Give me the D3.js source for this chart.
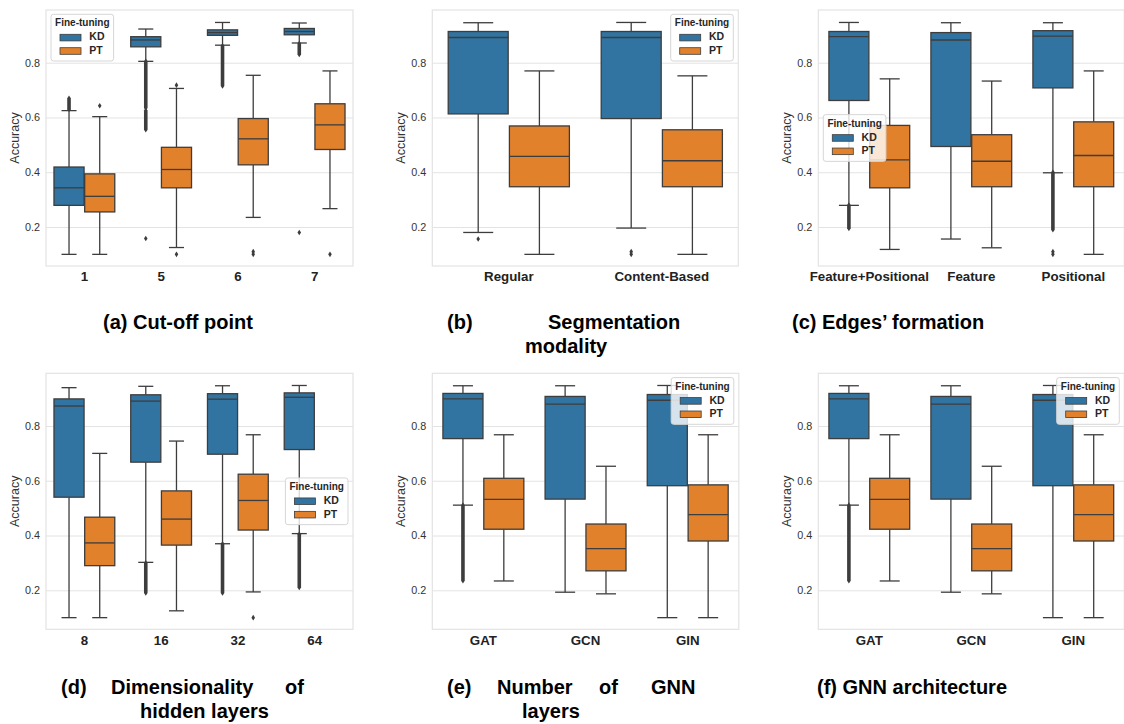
<!DOCTYPE html>
<html>
<head>
<meta charset="utf-8">
<script src="https://cdn.jsdelivr.net/npm/d3@7"></script>
<style>
  body { margin: 0; background: #fff; }
  svg { font-family: "Liberation Sans", Arial, sans-serif; }
</style>
</head>
<body>
<svg id="chart" width="1124" height="724"></svg>
<script>
// box stats: [lower whisker, q1, median, q3, upper whisker]
const hues = ["KD", "PT"];
const hueColors = ["#3274a1", "#e1812c"];
const yTicks = [0.2, 0.4, 0.6, 0.8];

// (a) cut-off point
const cutoffCats = ["1", "5", "6", "7"];
const cutoffKD = [[0.100, 0.279, 0.343, 0.419, 0.625], [0.805, 0.858, 0.883, 0.895, 0.923], [0.864, 0.900, 0.910, 0.920, 0.947], [0.872, 0.902, 0.914, 0.925, 0.945]];
const cutoffPT = [[0.100, 0.255, 0.312, 0.394, 0.603], [0.125, 0.343, 0.410, 0.491, 0.706], [0.235, 0.427, 0.522, 0.596, 0.754], [0.267, 0.483, 0.573, 0.650, 0.770]];
// single outliers [category, hue, value] and dense runs [category, hue, low, high]
const cutoffOut = [[0, 1, 0.643], [1, 0, 0.158], [1, 1, 0.718], [1, 1, 0.100], [2, 1, 0.100], [2, 1, 0.110], [3, 0, 0.180], [3, 1, 0.100]];
const cutoffRuns = [[0, 0, 0.630, 0.670], [1, 0, 0.555, 0.625], [1, 0, 0.635, 0.805], [2, 0, 0.715, 0.862], [3, 0, 0.830, 0.870]];

// (b) segmentation modality
const segCats = ["Regular", "Content-Based"];
const segKD = [[0.180, 0.613, 0.892, 0.914, 0.946], [0.196, 0.596, 0.892, 0.914, 0.947]];
const segPT = [[0.100, 0.347, 0.458, 0.569, 0.770], [0.100, 0.347, 0.442, 0.555, 0.752]];
const segOut = [[0, 0, 0.156], [1, 0, 0.100], [1, 0, 0.110]];
const segRuns = [];

// (c) edges' formation
const edgeCats = ["Feature+Positional", "Feature", "Positional"];
const edgeKD = [[0.279, 0.662, 0.895, 0.914, 0.947], [0.156, 0.494, 0.883, 0.910, 0.946], [0.398, 0.708, 0.897, 0.917, 0.946]];
const edgePT = [[0.118, 0.343, 0.445, 0.571, 0.741], [0.124, 0.347, 0.440, 0.537, 0.733], [0.100, 0.347, 0.461, 0.584, 0.770]];
const edgeOut = [[2, 0, 0.100], [2, 0, 0.110]];
const edgeRuns = [[0, 0, 0.195, 0.280], [2, 0, 0.190, 0.400]];

// (d) dimensionality of hidden layers (no PT run for 64)
const hidCats = ["8", "16", "32", "64"];
const hidKD = [[0.100, 0.540, 0.873, 0.899, 0.940], [0.302, 0.668, 0.891, 0.914, 0.945], [0.370, 0.697, 0.898, 0.918, 0.947], [0.407, 0.714, 0.905, 0.921, 0.948]];
const hidPT = [[0.100, 0.290, 0.373, 0.467, 0.700], [0.125, 0.365, 0.460, 0.563, 0.745], [0.194, 0.420, 0.528, 0.624, 0.768], null];
const hidOut = [[2, 1, 0.100]];
const hidRuns = [[1, 0, 0.190, 0.300], [2, 0, 0.190, 0.370], [3, 0, 0.210, 0.405]];

// (e) / (f) GNN
const gnnCats = ["GAT", "GCN", "GIN"];
const gnnKD = [[0.511, 0.754, 0.899, 0.919, 0.947], [0.193, 0.533, 0.880, 0.908, 0.947], [0.100, 0.582, 0.894, 0.915, 0.948]];
const gnnPT = [[0.234, 0.423, 0.532, 0.609, 0.768], [0.187, 0.271, 0.352, 0.442, 0.653], [0.100, 0.380, 0.476, 0.585, 0.768]];
const gnnOut = [];
const gnnRuns = [[0, 0, 0.235, 0.511]];

const panels = [
  {cats: cutoffCats, kd: cutoffKD, pt: cutoffPT, out: cutoffOut, runs: cutoffRuns, left: 46, top: 10, width: 307, legend: "ul"},
  {cats: segCats, kd: segKD, pt: segPT, out: segOut, runs: segRuns, left: 432.3, top: 10, width: 306, legend: "ur"},
  {cats: edgeCats, kd: edgeKD, pt: edgePT, out: edgeOut, runs: edgeRuns, left: 818.3, top: 10, width: 306, legend: "cl"},
  {cats: hidCats, kd: hidKD, pt: hidPT, out: hidOut, runs: hidRuns, left: 46, top: 373.3, width: 307, legend: "cr"},
  {cats: gnnCats, kd: gnnKD, pt: gnnPT, out: gnnOut, runs: gnnRuns, left: 432.3, top: 373.3, width: 306.5, legend: "ur"},
  {cats: gnnCats, kd: gnnKD, pt: gnnPT, out: gnnOut, runs: gnnRuns, left: 818.3, top: 373.3, width: 306, legend: "ur"}
];

// caption lines: [text, x, baseline]
const captions = [
  ["(a) Cut-off point", 103, 329],
  ["(b)", 447, 329], ["Segmentation", 548, 329], ["modality", 525, 353],
  ["(c) Edges\u2019 formation", 792, 329],
  ["(d)", 61, 694], ["Dimensionality", 111, 694], ["of", 285, 694], ["hidden layers", 140, 718],
  ["(e)", 447, 694], ["Number", 497, 694], ["of", 599, 694], ["GNN", 651, 694], ["layers", 522, 718],
  ["(f) GNN architecture", 817, 694]
];

const H = 256;
const lineColor = "#3d3d3d";
const svg = d3.select("#chart");

panels.forEach(p => drawPanel(p));

svg.append("g")
  .selectAll("text")
  .data(captions)
  .join("text")
    .attr("x", d => d[0] ? d[1] : 0)
    .attr("y", d => d[2])
    .attr("font-size", 20)
    .attr("font-weight", "bold")
    .attr("fill", "#000")
    .text(d => d[0]);

function drawPanel(p) {
  const g = svg.append("g").attr("transform", `translate(${p.left},${p.top})`);
  const W = p.width;

  const x = d3.scaleBand().domain(p.cats).range([0, W]);
  const hx = d3.scaleBand().domain(hues).range([0.1 * x.bandwidth(), 0.9 * x.bandwidth()]);
  const y = d3.scaleLinear().domain([0.0575, 0.9925]).range([H, 0]);
  const bw = hx.bandwidth() * 0.98;
  const cx = (ci, hi) => x(p.cats[ci]) + hx(hues[hi]) + hx.bandwidth() / 2;

  // grid + y labels
  const yAxis = g.append("g")
    .call(d3.axisLeft(y).tickValues(yTicks).tickSize(-W).tickPadding(6).tickFormat(d3.format(".1f")));
  yAxis.select(".domain").remove();
  yAxis.selectAll("line").attr("stroke", "#e3e3e3").attr("stroke-width", 1);
  yAxis.selectAll("text").attr("font-size", 10.8).attr("fill", "#333")
    .attr("font-family", "'Liberation Sans', Arial, sans-serif");

  g.append("rect")
    .attr("width", W).attr("height", H)
    .attr("fill", "none").attr("stroke", "#e3e3e3").attr("stroke-width", 1.2);

  const xAxis = g.append("g")
    .attr("transform", `translate(0,${H})`)
    .call(d3.axisBottom(x).tickSize(0).tickPadding(6));
  xAxis.select(".domain").remove();
  xAxis.selectAll("text").attr("font-size", 13.3).attr("font-weight", "bold").attr("fill", "#222")
    .attr("font-family", "'Liberation Sans', Arial, sans-serif");

  g.append("text")
    .text("Accuracy")
    .attr("transform", `translate(-30.5,${H / 2}) rotate(-90)`)
    .attr("text-anchor", "middle")
    .attr("dominant-baseline", "middle")
    .attr("font-size", 12.5)
    .attr("fill", "#333");

  const boxes = [];
  p.cats.forEach((c, ci) => {
    [p.kd[ci], p.pt[ci]].forEach((s, hi) => {
      if (s) boxes.push({ci, hi, s});
    });
  });

  const bg = g.append("g").selectAll("g").data(boxes).join("g");
  // whiskers
  bg.append("line")
    .attr("x1", d => cx(d.ci, d.hi)).attr("x2", d => cx(d.ci, d.hi))
    .attr("y1", d => y(d.s[0])).attr("y2", d => y(d.s[1]))
    .attr("stroke", lineColor).attr("stroke-width", 1.3);
  bg.append("line")
    .attr("x1", d => cx(d.ci, d.hi)).attr("x2", d => cx(d.ci, d.hi))
    .attr("y1", d => y(d.s[3])).attr("y2", d => y(d.s[4]))
    .attr("stroke", lineColor).attr("stroke-width", 1.3);
  [0, 4].forEach(k => {
    bg.append("line")
      .attr("x1", d => cx(d.ci, d.hi) - bw / 4).attr("x2", d => cx(d.ci, d.hi) + bw / 4)
      .attr("y1", d => y(d.s[k])).attr("y2", d => y(d.s[k]))
      .attr("stroke", lineColor).attr("stroke-width", 1.3);
  });
  bg.append("rect")
    .attr("x", d => cx(d.ci, d.hi) - bw / 2)
    .attr("y", d => y(d.s[3]))
    .attr("width", bw)
    .attr("height", d => y(d.s[1]) - y(d.s[3]))
    .attr("fill", d => hueColors[d.hi])
    .attr("stroke", lineColor).attr("stroke-width", 1.3);
  bg.append("line")
    .attr("x1", d => cx(d.ci, d.hi) - bw / 2).attr("x2", d => cx(d.ci, d.hi) + bw / 2)
    .attr("y1", d => y(d.s[2])).attr("y2", d => y(d.s[2]))
    .attr("stroke", lineColor).attr("stroke-width", 1.3);

  // fliers: thin diamonds
  const dw = 1.8, dh = 2.8;
  g.append("g").selectAll("path").data(p.out).join("path")
    .attr("d", d => {
      const px = cx(d[0], d[1]), py = y(d[2]);
      return `M${px},${py - dh}L${px + dw},${py}L${px},${py + dh}L${px - dw},${py}Z`;
    })
    .attr("fill", lineColor);
  g.append("g").selectAll("path").data(p.runs).join("path")
    .attr("d", d => {
      const px = cx(d[0], d[1]), lo = y(d[2]), hi = y(d[3]);
      return `M${px},${hi - dh}L${px + dw},${hi}L${px + dw},${lo}L${px},${lo + dh}L${px - dw},${lo}L${px - dw},${hi}Z`;
    })
    .attr("fill", lineColor);

  addLegend(g, W, p.legend);
}

function addLegend(g, W, loc) {
  const lw = 62.6, lh = 46.7, pad = 5;
  const lx = loc[1] === "l" ? pad : W - lw - pad;
  const ly = loc[0] === "u" ? 4.3 : (H - lh) / 2;
  const lg = g.append("g").attr("transform", `translate(${lx},${ly})`);
  lg.append("rect")
    .attr("width", lw).attr("height", lh).attr("rx", 2.5)
    .attr("fill", "#fff").attr("fill-opacity", 0.8)
    .attr("stroke", "#d6d6d6").attr("stroke-width", 1);
  lg.append("text")
    .text("Fine-tuning")
    .attr("x", lw / 2).attr("y", 9.3)
    .attr("text-anchor", "middle").attr("dominant-baseline", "middle")
    .attr("font-size", 10).attr("font-weight", "bold").attr("fill", "#262626");
  hues.forEach((h, i) => {
    lg.append("rect")
      .attr("x", 9).attr("y", 20 + i * 13.4)
      .attr("width", 21).attr("height", 6.6)
      .attr("fill", hueColors[i]).attr("stroke", lineColor).attr("stroke-width", 0.8);
    lg.append("text")
      .text(h)
      .attr("x", 38.3).attr("y", 23.4 + i * 13.4)
      .attr("dominant-baseline", "middle")
      .attr("font-size", 10.5).attr("font-weight", "bold").attr("fill", "#262626");
  });
}
</script>
</body>
</html>
